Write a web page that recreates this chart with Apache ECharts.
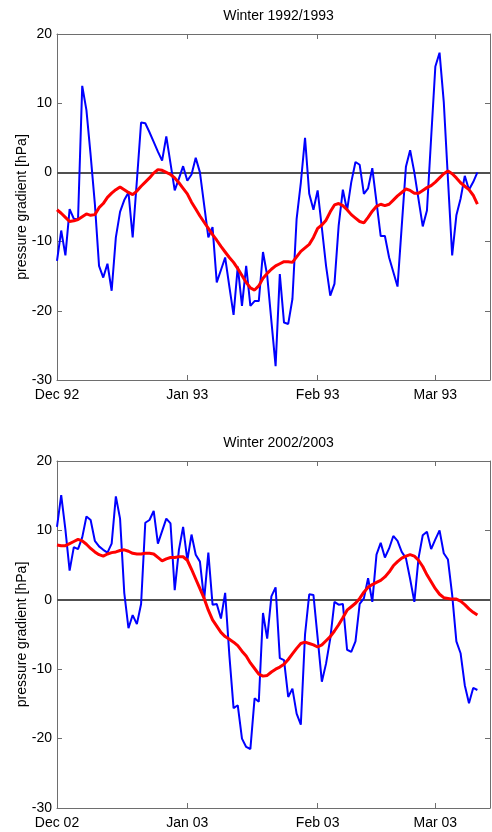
<!DOCTYPE html>
<html>
<head>
<meta charset="utf-8">
<script src="https://cdn.jsdelivr.net/npm/echarts@6/dist/echarts.min.js"></script>
<style>
  html, body { margin: 0; padding: 0; background: #fff; }
  #chart { width: 492px; height: 832px; }
</style>
</head>
<body>
<div id="chart"></div>
<script>
// Daily pressure gradient (hPa), day 0 = 1 December. Blue: daily values, red: running mean.
const titles = ['Winter 1992/1993', 'Winter 2002/2003'];

const blue9293 = [
  -12.8, -8.4, -12.0, -5.3, -6.7, -6.8, 12.5, 9.0, 2.5, -4.5,
  -13.5, -15.2, -13.2, -17.1, -9.4, -5.7, -4.0, -2.9, -9.4, -1.2,
  7.2, 7.1, 5.8, 4.4, 3.0, 1.7, 5.2, 1.3, -2.6, -0.9,
  0.9, -1.2, -0.3, 2.1, 0.0, -4.7, -9.4, -7.9, -15.9, -14.1,
  -12.3, -16.5, -20.6, -13.6, -19.3, -13.5, -19.3, -18.6, -18.6, -11.5,
  -14.9, -21.5, -28.0, -14.7, -21.7, -21.9, -18.3, -6.7, -1.5, 5.0,
  -3.1, -5.4, -2.6, -8.0, -13.5, -17.8, -16.1, -7.7, -2.5, -5.5,
  -1.4, 1.5, 1.1, -3.1, -2.3, 0.6, -4.3, -9.2, -9.2, -12.3,
  -14.4, -16.5, -7.8, 0.8, 3.2, 0.0, -3.9, -7.8, -5.5, 5.0,
  15.3, 17.3, 10.2, -1.0, -12.0, -6.2, -3.8, -0.5, -2.5, -1.4,
  0.0
];

const red9293 = [
  -5.4, -5.9, -6.5, -7.1, -7.0, -6.8, -6.4, -6.0, -6.2, -6.1,
  -5.1, -4.5, -3.6, -3.0, -2.5, -2.1, -2.5, -2.9, -3.2, -2.7,
  -2.0, -1.4, -0.8, -0.1, 0.4, 0.3, 0.0, -0.3, -0.8, -1.5,
  -2.3, -3.1, -4.3, -5.3, -6.3, -7.2, -8.1, -9.0, -9.8, -10.7,
  -11.5, -12.3, -13.0, -13.9, -14.9, -15.9, -16.7, -17.0, -16.4, -15.3,
  -14.6, -14.0, -13.5, -13.2, -12.9, -12.9, -13.0, -12.2, -11.4, -10.9,
  -10.4, -9.4, -8.1, -7.6, -6.9, -5.7, -4.7, -4.5, -4.8, -5.4,
  -6.1, -6.6, -7.1, -7.3, -6.5, -5.6, -4.9, -4.6, -4.8, -4.6,
  -4.0, -3.4, -2.9, -2.4, -2.6, -3.0, -3.0, -2.6, -2.2, -1.9,
  -1.4, -0.8, -0.2, 0.2, -0.2, -0.8, -1.5, -2.0, -2.5, -3.3,
  -4.6
];

const blue0203 = [
  10.5, 15.1, 10.1, 4.2, 7.6, 7.3, 9.0, 12.0, 11.5, 8.5,
  7.7, 7.2, 6.8, 8.1, 14.9, 11.7, 1.0, -4.1, -2.2, -3.5,
  -0.6, 11.1, 11.5, 12.8, 8.1, 9.9, 11.7, 11.0, 1.4, 7.2,
  10.5, 5.7, 9.4, 6.5, 5.5, 0.0, 6.8, -0.7, -0.6, -2.7,
  1.0, -8.0, -15.6, -15.2, -20.0, -21.2, -21.5, -14.2, -14.7, -1.9,
  -5.6, 0.5, 1.8, -8.4, -8.7, -14.0, -12.8, -16.4, -18.0, -5.0,
  0.8, 0.7, -5.5, -11.8, -9.2, -5.6, -0.3, -0.7, -0.6, -7.2,
  -7.5, -6.0, -0.6, 0.2, 3.1, -0.3, 6.5, 8.2, 6.1, 7.4,
  9.2, 8.5, 6.9, 6.0, 3.0, -0.3, 6.0, 9.3, 9.8, 7.3,
  8.7, 10.0, 6.7, 5.8, 0.7, -6.0, -7.7, -12.3, -14.9, -12.7,
  -13.0
];

const red0203 = [
  7.9, 7.8, 7.8, 8.1, 8.4, 8.7, 8.5, 8.0, 7.4, 6.9,
  6.5, 6.3, 6.6, 6.8, 6.9, 7.1, 7.2, 7.0, 6.7, 6.6,
  6.6, 6.7, 6.7, 6.6, 6.1, 5.6, 5.9, 6.1, 6.1, 6.2,
  6.2, 5.7, 4.4, 3.0, 1.6, 0.2, -1.5, -2.9, -3.8, -4.7,
  -5.3, -5.7, -6.1, -6.6, -7.4, -8.1, -9.1, -9.9, -10.7, -11.0,
  -10.9, -10.4, -10.0, -9.7, -9.3, -8.6, -7.8, -7.0, -6.3, -6.1,
  -6.3, -6.5, -6.8, -6.5, -5.9, -5.3, -4.5, -3.6, -2.6, -1.5,
  -1.0, -0.5, 0.2, 1.1, 1.8, 2.2, 2.5, 2.8, 3.3, 4.0,
  4.9, 5.5, 6.0, 6.3, 6.5, 6.3, 5.7, 4.8, 3.6, 2.6,
  1.6, 0.8, 0.3, 0.2, 0.1, 0.1, -0.2, -0.7, -1.3, -1.8,
  -2.2
];

// Month starts (days after 1 December) and their labels
const tickDays = [0, 31, 62, 90];
const tickLabels9293 = ['Dec 92', 'Jan 93', 'Feb 93', 'Mar 93'];
const tickLabels0203 = ['Dec 02', 'Jan 03', 'Feb 03', 'Mar 03'];

const FONT = 'Liberation Sans, Arial, Helvetica, sans-serif';
const FRAME = '#6e6e6e';
const DAY_MAX = 103;

const grids = [
  { left: 57, top: 34, width: 433, height: 346 },
  { left: 57, top: 461, width: 433, height: 347 }
];

function toPairs(arr) { return arr.map((v, i) => [i, v]); }

function xAxes(gridIndex, labels) {
  const base = {
    type: 'value', gridIndex, min: 0, max: DAY_MAX,
    splitLine: { show: false },
    axisLine: { show: true, onZero: false, lineStyle: { color: FRAME, width: 1 } },
    axisTick: { show: true, inside: true, length: 5, customValues: tickDays,
                lineStyle: { color: FRAME, width: 1 } }
  };
  return [
    Object.assign({}, base, {
      position: 'bottom',
      axisLabel: {
        show: true, customValues: tickDays, margin: 8,
        color: '#000', fontFamily: FONT, fontSize: 14,
        formatter: v => labels[tickDays.indexOf(Math.round(v))] || ''
      }
    }),
    Object.assign({}, base, { position: 'top', axisLabel: { show: false } })
  ];
}

function yAxes(gridIndex) {
  const base = {
    type: 'value', gridIndex, min: -30, max: 20, interval: 10,
    splitLine: { show: false },
    axisLine: { show: true, onZero: false, lineStyle: { color: FRAME, width: 1 } },
    axisTick: { show: true, inside: true, length: 5, lineStyle: { color: FRAME, width: 1 } }
  };
  return [
    Object.assign({}, base, {
      position: 'left',
      name: 'pressure gradient [hPa]',
      nameLocation: 'middle', nameGap: 28, nameRotate: 90,
      nameMoveOverlap: false,
      nameTextStyle: { color: '#000', fontFamily: FONT, fontSize: 14 },
      axisLabel: { show: true, margin: 5, color: '#000', fontFamily: FONT, fontSize: 14 }
    }),
    Object.assign({}, base, { position: 'right', axisLabel: { show: false } })
  ];
}

function panelSeries(axisOffset, blue, red) {
  const xi = axisOffset, yi = axisOffset;
  return [
    {
      type: 'line', xAxisIndex: xi, yAxisIndex: yi, data: [],
      silent: true, z: 1,
      markLine: {
        silent: true, symbol: ['none', 'none'], z: 1,
        label: { show: false },
        lineStyle: { color: '#505050', width: 2, type: 'solid' },
        data: [{ yAxis: 0 }]
      }
    },
    {
      type: 'line', xAxisIndex: xi, yAxisIndex: yi, data: toPairs(blue),
      showSymbol: false, z: 3, animation: false,
      lineStyle: { color: '#0000ff', width: 2 }
    },
    {
      type: 'line', xAxisIndex: xi, yAxisIndex: yi, data: toPairs(red),
      showSymbol: false, z: 4, animation: false,
      lineStyle: { color: '#ff0000', width: 3 }
    }
  ];
}

const option = {
  animation: false,
  backgroundColor: '#fff',
  title: [
    { text: titles[0], left: 273.5, top: 4, textAlign: 'center',
      textStyle: { fontFamily: FONT, fontSize: 14, fontWeight: 'normal', color: '#000' } },
    { text: titles[1], left: 273.5, top: 431, textAlign: 'center',
      textStyle: { fontFamily: FONT, fontSize: 14, fontWeight: 'normal', color: '#000' } }
  ],
  grid: grids,
  xAxis: [].concat(xAxes(0, tickLabels9293), xAxes(1, tickLabels0203)),
  yAxis: [].concat(yAxes(0), yAxes(1)),
  series: [].concat(panelSeries(0, blue9293, red9293), panelSeries(2, blue0203, red0203))
};

const chart = echarts.init(document.getElementById('chart'), null, { renderer: 'canvas' });
chart.setOption(option);
</script>
</body>
</html>
